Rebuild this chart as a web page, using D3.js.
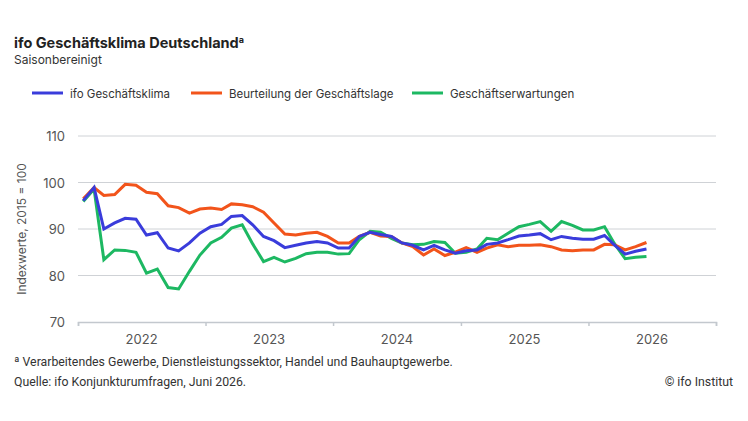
<!DOCTYPE html>
<html>
<head>
<meta charset="utf-8">
<script src="https://cdn.jsdelivr.net/npm/d3@7"></script>
<style>
  html, body { margin: 0; padding: 0; background: #fff; }
  svg { display: block; }
</style>
</head>
<body>
<svg id="chart" width="748" height="421"></svg>
<script>
// ---- data (monthly, Jan 2022 – Jun 2026) ----
const startYear = 2022;
const yearLabels = ["2022", "2023", "2024", "2025", "2026"];
const yTicks = [70, 80, 90, 100, 110];
const seriesNames = ["ifo Geschäftsklima", "Beurteilung der Geschäftslage", "Geschäftserwartungen"];

const klima = [
  96.1, 98.9, 90.0, 91.3, 92.3, 92.1, 88.7, 89.2, 85.9, 85.3, 87.0, 89.1,
  90.5, 91.0, 92.7, 92.9, 90.9, 88.4, 87.5, 86.0, 86.5, 87.0, 87.3, 87.0,
  85.9, 85.9, 88.4, 89.3, 88.8, 88.4, 87.0, 86.5, 85.5, 86.5, 85.5, 84.8,
  85.3, 85.5, 86.7, 87.0, 87.7, 88.5, 88.7, 89.0, 87.7, 88.4, 88.0, 87.8,
  87.8, 88.6, 86.6, 84.6, 85.2, 85.7
];
const lage = [
  96.5, 98.9, 97.2, 97.4, 99.6, 99.4, 97.9, 97.6, 95.0, 94.6, 93.4, 94.3,
  94.5, 94.2, 95.4, 95.2, 94.8, 93.6, 91.3, 88.9, 88.7, 89.1, 89.3, 88.4,
  87.0, 87.0, 88.4, 89.3, 88.5, 88.4, 87.0, 86.2, 84.4, 85.7, 84.3, 85.0,
  86.0, 85.0, 85.9, 86.6, 86.2, 86.5, 86.5, 86.6, 86.2, 85.5, 85.3, 85.5,
  85.5, 86.7, 86.6, 85.5, 86.2, 87.1
];
const erwartungen = [
  95.9, 98.6, 83.4, 85.5, 85.4, 85.0, 80.5, 81.4, 77.4, 77.1, 80.9, 84.4,
  87.0, 88.2, 90.2, 90.9, 86.8, 83.0, 83.9, 82.9, 83.7, 84.7, 85.0, 85.0,
  84.6, 84.7, 87.7, 89.5, 89.3, 88.0, 87.0, 86.6, 86.7, 87.3, 87.1, 84.8,
  85.0, 85.7, 88.0, 87.7, 89.1, 90.5, 91.0, 91.6, 89.5, 91.6, 90.8, 89.8,
  89.8, 90.5, 86.9, 83.6, 83.9, 84.1
];
const colors = ["#3a3cdb", "#f2541b", "#1db862"];

// ---- layout ----
const svg = d3.select("#chart");
const font = "Inter, 'Noto Sans', sans-serif";
const margin = { left: 78, right: 32 };
const W = 748;

const x = d3.scaleTime()
  .domain([new Date(startYear, 0, 1), new Date(startYear + yearLabels.length, 0, 1)])
  .range([margin.left, W - margin.right]);
const y = d3.scaleLinear().domain([70, 110]).range([322, 136]);

const monthDate = i => new Date(startYear, i, 16);

// title
svg.append("text").attr("x", 14).attr("y", 48)
  .style("font-family", font).style("font-size", "14.5px").style("font-weight", 700)
  .attr("fill", "#222")
  .text("ifo Geschäftsklima Deutschland")
  .append("tspan").attr("dy", -5).style("font-size", "9px").text("a");
svg.append("text").attr("x", 14).attr("y", 64)
  .style("font-family", font).style("font-size", "12px").attr("fill", "#333")
  .text("Saisonbereinigt");

// legend
const legendX = [32, 191, 412];
seriesNames.forEach((n, k) => {
  const g = svg.append("g").attr("transform", `translate(${legendX[k]},93)`);
  g.append("line").attr("x1", 0).attr("x2", 31).attr("y1", 0).attr("y2", 0)
    .attr("stroke", colors[k]).attr("stroke-width", 3);
  g.append("text").attr("x", 38).attr("y", 4.5)
    .style("font-family", font).style("font-size", "11.5px").attr("fill", "#333")
    .text(n);
});

// grid
svg.append("g").selectAll("line").data(yTicks.filter(t => t !== 70)).join("line")
  .attr("x1", margin.left).attr("x2", W - margin.right)
  .attr("y1", d => y(d)).attr("y2", d => y(d))
  .attr("stroke", "#cfd2d6").attr("stroke-width", 1);

// y tick labels
svg.append("g").selectAll("text").data(yTicks).join("text")
  .attr("x", 65).attr("y", d => y(d) + 5)
  .attr("text-anchor", "end")
  .style("font-family", font).style("font-size", "13px").attr("fill", "#555")
  .text(d => d);

// y axis title
svg.append("text")
  .attr("transform", "translate(26,229) rotate(-90)")
  .attr("text-anchor", "middle")
  .style("font-family", font).style("font-size", "12px").attr("fill", "#555")
  .text("Indexwerte, 2015 = 100");

// x axis
const xAxis = d3.axisBottom(x)
  .tickValues(d3.range(startYear, startYear + yearLabels.length + 1).map(yr => new Date(yr, 0, 1)))
  .tickSize(4).tickFormat("");
const gx = svg.append("g").attr("transform", `translate(0,${y(70)})`).call(xAxis);
gx.select(".domain").attr("stroke", "#c3c8ce").attr("stroke-width", 1.5);
gx.selectAll(".tick line").attr("stroke", "#c3c8ce").attr("stroke-width", 1.5);

svg.append("g").selectAll("text").data(yearLabels).join("text")
  .attr("x", (d, i) => x(new Date(startYear + i, 6, 2)))
  .attr("y", 344)
  .attr("text-anchor", "middle")
  .style("font-family", font).style("font-size", "13px").attr("fill", "#555")
  .text(d => d);

// lines
const line = d3.line().x((d, i) => x(monthDate(i))).y(d => y(d));
const allSeries = [klima, lage, erwartungen];
[2, 1, 0].forEach(k => {
  svg.append("path").datum(allSeries[k])
    .attr("d", line)
    .attr("fill", "none")
    .attr("stroke", colors[k])
    .attr("stroke-width", 3)
    .attr("stroke-linejoin", "miter");
});

// footnotes
const noteFont = "Roboto, sans-serif";
svg.append("text").attr("x", 14).attr("y", 366)
  .style("font-family", noteFont).style("font-size", "12.3px").attr("fill", "#333")
  .text("ª Verarbeitendes Gewerbe, Dienstleistungssektor, Handel und Bauhauptgewerbe.");
svg.append("text").attr("x", 14).attr("y", 386)
  .style("font-family", noteFont).style("font-size", "12.3px").attr("fill", "#333")
  .text("Quelle: ifo Konjunkturumfragen, Juni 2026.");
svg.append("text").attr("x", 733).attr("y", 386).attr("text-anchor", "end")
  .style("font-family", noteFont).style("font-size", "12.3px").attr("fill", "#333")
  .text("© ifo Institut");
</script>
</body>
</html>
